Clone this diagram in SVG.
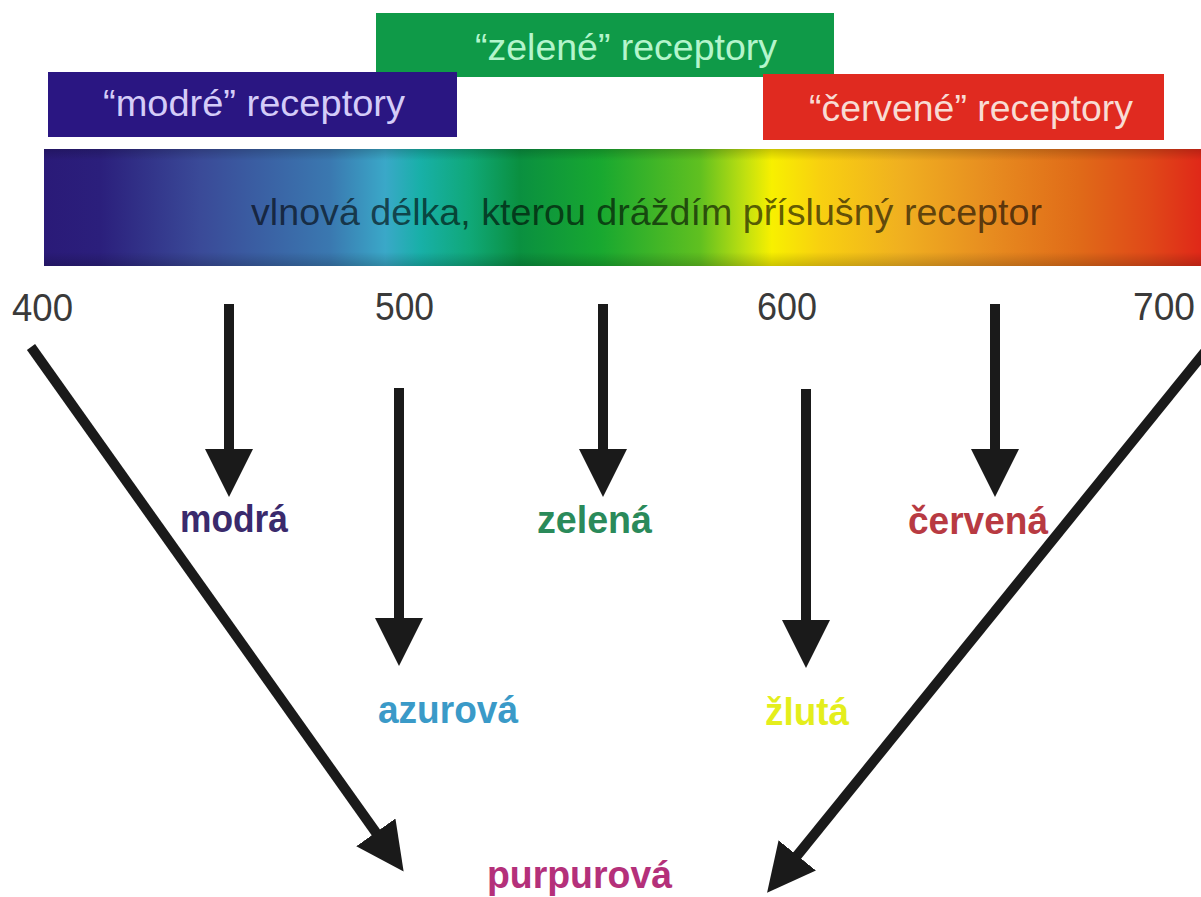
<svg xmlns="http://www.w3.org/2000/svg" width="1201" height="897" viewBox="0 0 1201 897">
<defs>
<style>
.box{font-family:"Liberation Sans",Arial,sans-serif;font-size:36px}
.num{font-family:"Liberation Sans",Arial,sans-serif;font-size:38px;fill:#3a3a3a}
.lab{font-family:"Liberation Sans",Arial,sans-serif;font-size:38px;font-weight:bold}
.arr{stroke:#1a1a1a;stroke-width:10;fill:none;marker-end:url(#head)}
</style>
<marker id="head" markerUnits="userSpaceOnUse" viewBox="0 0 48 48" refX="2" refY="24" markerWidth="48" markerHeight="48" orient="auto">
<path d="M0,0 L48,24 L0,48 Z" fill="#1a1a1a"/>
</marker>
<linearGradient id="spec" x1="44" y1="0" x2="1201" y2="0" gradientUnits="userSpaceOnUse">
<stop offset="0" stop-color="#2a1a78"/>
<stop offset="0.048" stop-color="#2b1f7c"/>
<stop offset="0.135" stop-color="#3a4a98"/>
<stop offset="0.247" stop-color="#3a78b0"/>
<stop offset="0.295" stop-color="#3aa8c8"/>
<stop offset="0.325" stop-color="#18b0a8"/>
<stop offset="0.368" stop-color="#10a878"/>
<stop offset="0.411" stop-color="#0a9040"/>
<stop offset="0.481" stop-color="#18a830"/>
<stop offset="0.567" stop-color="#60c020"/>
<stop offset="0.606" stop-color="#c0e010"/>
<stop offset="0.629" stop-color="#f8f000"/>
<stop offset="0.671" stop-color="#f8d010"/>
<stop offset="0.74" stop-color="#f0b020"/>
<stop offset="0.809" stop-color="#e89020"/>
<stop offset="0.895" stop-color="#e06a18"/>
<stop offset="0.956" stop-color="#e04818"/>
<stop offset="1" stop-color="#e02818"/>
</linearGradient>
<linearGradient id="shade" x1="0" y1="0" x2="0" y2="1">
<stop offset="0" stop-color="#000" stop-opacity="0.18"/>
<stop offset="0.1" stop-color="#000" stop-opacity="0"/>
<stop offset="0.88" stop-color="#000" stop-opacity="0"/>
<stop offset="1" stop-color="#000" stop-opacity="0.18"/>
</linearGradient>
</defs>
<rect width="1201" height="897" fill="#ffffff"/>

<g id="green-receptors">
<rect x="376" y="13" width="458" height="64" fill="#0f9a48"/>
<text class="box" x="475" y="60" textLength="302" lengthAdjust="spacingAndGlyphs" fill="#b4f5cc">“zelené” receptory</text>
</g>
<g id="blue-receptors">
<rect x="48" y="72" width="409" height="65" fill="#2a1682"/>
<text class="box" x="103" y="116" textLength="302" lengthAdjust="spacingAndGlyphs" fill="#d4ccf8">“modré” receptory</text>
</g>
<g id="red-receptors">
<rect x="763" y="74" width="401" height="66" fill="#e02a20"/>
<text class="box" x="809" y="121" textLength="324" lengthAdjust="spacingAndGlyphs" fill="#f8dcd4">“červené” receptory</text>
</g>
<g id="spectrum">
<rect x="44" y="149" width="1157" height="117" fill="url(#spec)"/>
<rect x="44" y="149" width="1157" height="117" fill="url(#shade)"/>
<text class="box" x="251" y="225" textLength="791" lengthAdjust="spacingAndGlyphs" font-size="39" fill="#000" fill-opacity="0.62">vlnová délka, kterou dráždím příslušný receptor</text>
</g>
<g id="scale">
<text class="num" x="12" y="321" textLength="61" lengthAdjust="spacingAndGlyphs">400</text>
<text class="num" x="375" y="320" textLength="59" lengthAdjust="spacingAndGlyphs">500</text>
<text class="num" x="757" y="320" textLength="60" lengthAdjust="spacingAndGlyphs">600</text>
<text class="num" x="1133" y="320" textLength="62" lengthAdjust="spacingAndGlyphs">700</text>
</g>

<g id="connectors">
<line class="arr" x1="229" y1="304" x2="229" y2="451"/>
<line class="arr" x1="603" y1="304" x2="603" y2="451"/>
<line class="arr" x1="995" y1="304" x2="995" y2="451"/>
<line class="arr" x1="399" y1="388" x2="399" y2="620"/>
<line class="arr" x1="806" y1="389" x2="806" y2="622"/>
<line class="arr" x1="31" y1="347" x2="377" y2="834"/>
<line class="arr" x1="1208" y1="348" x2="796" y2="857"/>
</g>

<g id="modra"><text class="lab" x="180" y="532" textLength="108" lengthAdjust="spacingAndGlyphs" fill="#3a2a6c">modrá</text></g>
<g id="zelena"><text class="lab" x="537" y="533" textLength="115" lengthAdjust="spacingAndGlyphs" fill="#2a8a5a">zelená</text></g>
<g id="cervena"><text class="lab" x="908" y="534" textLength="140" lengthAdjust="spacingAndGlyphs" fill="#b83a42">červená</text></g>
<g id="azurova"><text class="lab" x="378" y="723" textLength="140" lengthAdjust="spacingAndGlyphs" fill="#3a9ac8">azurová</text></g>
<g id="zluta"><text class="lab" x="765" y="725" textLength="84" lengthAdjust="spacingAndGlyphs" fill="#e4ee1c">žlutá</text></g>
<g id="purpurova"><text class="lab" x="487" y="888" font-size="36" textLength="185" lengthAdjust="spacingAndGlyphs" fill="#b4307a">purpurová</text></g>
</svg>
